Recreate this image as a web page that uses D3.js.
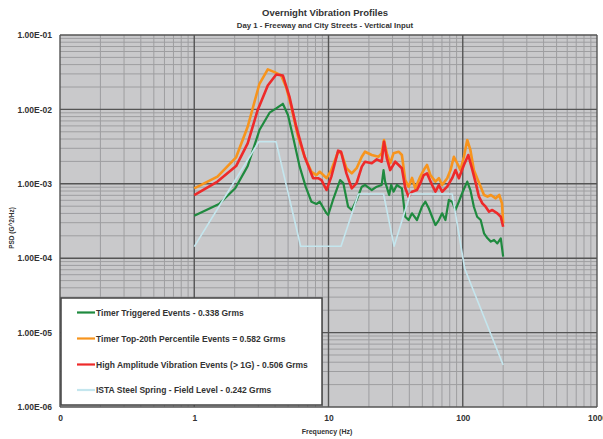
<!DOCTYPE html>
<html>
<head>
<meta charset="utf-8">
<script src="https://cdn.jsdelivr.net/npm/d3@7"></script>
<style>
  html, body { margin: 0; padding: 0; background: #fff; }
  svg { display: block; font-family: "Liberation Sans", Arial, sans-serif; }
</style>
</head>
<body>
<svg id="chart" width="603" height="439"></svg>
<script>
// ---------- DATA ----------
const chartTitle = "Overnight Vibration Profiles";
const chartSubtitle = "Day 1 - Freeway and City Streets - Vertical Input";
const xAxisTitle = "Frequency (Hz)";
const yAxisTitle = "PSD (G^2/Hz)";

const xTickValues = [0.1, 1, 10, 100, 1000];
const xTickLabels = ["0", "1", "10", "100", "1000"];
const yTickValues = [1e-6, 1e-5, 1e-4, 1e-3, 1e-2, 1e-1];
const yTickLabels = ["1.00E-06", "1.00E-05", "1.00E-04", "1.00E-03", "1.00E-02", "1.00E-01"];

const seriesNames = [
  "Timer Triggered Events - 0.338 Grms",
  "Timer Top-20th Percentile Events = 0.582 Grms",
  "High Amplitude Vibration Events (> 1G) - 0.506 Grms",
  "ISTA Steel Spring - Field Level - 0.242 Grms"
];

// Timer Triggered Events [Hz, PSD]
const timerTriggered = [
  [1.0,3.73e-4],[1.53,5.35e-4],[2.02,8.70e-4],[2.50,1.73e-3],[3.06,5.28e-3],[3.64,9.03e-3],
  [4.08,1.03e-2],[4.57,1.19e-2],[4.99,8.41e-3],[5.44,4.30e-3],[6.10,1.70e-3],[6.76,9.15e-4],
  [7.46,5.74e-4],[8.13,5.35e-4],[8.61,5.74e-4],[9.67,4.01e-4],[9.95,3.81e-4],[10.8,6.06e-4],
  [12.2,1.12e-3],[12.9,1.02e-3],[14.0,4.92e-4],[14.9,4.45e-4],[16.2,6.06e-4],[17.7,9.15e-4],
  [18.7,9.64e-4],[21.0,8.25e-4],[22.9,9.15e-4],[24.9,9.64e-4],[25.7,1.53e-3],[26.4,1.07e-3],
  [28.3,7.07e-4],[29.3,9.64e-4],[30.5,7.83e-4],[32.3,9.64e-4],[35.2,8.70e-4],[37.3,3.61e-4],
  [39.5,3.26e-4],[41.9,4.01e-4],[45.6,3.26e-4],[49.7,4.92e-4],[52.7,5.74e-4],[55.8,4.69e-4],
  [59.1,3.61e-4],[62.6,2.79e-4],[66.4,3.26e-4],[70.2,4.01e-4],[74.3,3.26e-4],[78.8,6.06e-4],
  [83.4,5.74e-4],[88.3,4.45e-4],[94.6,6.06e-4],[100,7.83e-4],[108,1.07e-3],[114,8.25e-4],
  [121,4.92e-4],[128,3.61e-4],[136,3.26e-4],[144,2.16e-4],[153,1.85e-4],[162,1.67e-4],
  [171,1.76e-4],[181,1.58e-4],[192,1.85e-4],[200,1.05e-4]
];

// Timer Top-20th Percentile Events [Hz, PSD]
const timerTop20 = [
  [1.0,8.70e-4],[1.49,1.25e-3],[2.05,2.27e-3],[2.50,5.85e-3],[3.06,2.21e-2],[3.53,3.45e-2],
  [3.96,3.17e-2],[4.44,2.86e-2],[4.84,1.99e-2],[5.28,1.09e-2],[5.93,4.30e-3],[6.64,2.31e-3],
  [7.46,1.45e-3],[8.13,1.31e-3],[8.61,1.45e-3],[9.67,1.19e-3],[10.5,1.53e-3],[11.8,2.70e-3],
  [12.5,2.57e-3],[13.6,1.62e-3],[14.9,1.38e-3],[16.2,1.62e-3],[17.7,2.31e-3],[18.7,2.70e-3],
  [21.0,2.44e-3],[23.6,2.31e-3],[24.9,2.57e-3],[25.9,3.88e-3],[27.2,2.57e-3],[28.8,1.89e-3],
  [30.5,2.57e-3],[33.3,2.70e-3],[35.2,2.44e-3],[36.3,1.62e-3],[37.3,1.12e-3],[39.5,9.15e-4],
  [41.9,1.20e-3],[44.3,8.70e-4],[48.3,1.25e-3],[51.2,1.53e-3],[54.2,1.79e-3],[57.4,1.31e-3],
  [62.6,1.07e-3],[66.4,1.19e-3],[70.2,9.64e-4],[76.6,1.19e-3],[81.1,1.53e-3],[85.9,2.31e-3],
  [90.9,1.89e-3],[96.2,1.53e-3],[102,2.31e-3],[108,3.88e-3],[114,2.85e-3],[121,1.53e-3],
  [128,1.19e-3],[136,9.15e-4],[144,7.07e-4],[153,6.71e-4],[162,7.07e-4],[176,6.38e-4],
  [187,7.07e-4],[196,5.47e-4],[200,2.95e-4]
];

// High Amplitude Vibration Events [Hz, PSD]
const highAmplitude = [
  [1.0,7.07e-4],[1.49,1.07e-3],[2.05,1.73e-3],[2.50,3.50e-3],[2.97,9.82e-3],[3.53,2.10e-2],
  [4.08,2.95e-2],[4.57,2.86e-2],[5.13,1.46e-2],[5.75,5.85e-3],[6.64,2.31e-3],[7.68,1.19e-3],
  [8.37,1.19e-3],[8.87,1.12e-3],[9.67,8.25e-4],[10.5,1.25e-3],[11.8,2.79e-3],[12.4,2.70e-3],
  [13.6,1.38e-3],[14.9,8.70e-4],[16.2,1.02e-3],[17.7,1.70e-3],[18.7,1.98e-3],[21.0,1.89e-3],
  [22.9,2.13e-3],[24.9,1.98e-3],[25.9,3.68e-3],[27.2,2.20e-3],[28.8,1.53e-3],[31.4,1.98e-3],
  [33.3,1.79e-3],[35.2,1.62e-3],[37.3,8.80e-4],[39.5,6.71e-4],[41.9,7.83e-4],[45.6,8.25e-4],
  [48.3,1.02e-3],[51.2,1.31e-3],[54.2,1.38e-3],[59.1,9.64e-4],[62.6,7.83e-4],[66.4,9.60e-4],
  [70.2,7.83e-4],[76.6,9.15e-4],[83.4,1.19e-3],[88.3,1.53e-3],[93.6,1.19e-3],[102,1.79e-3],
  [110,2.44e-3],[118,1.53e-3],[125,1.02e-3],[132,6.71e-4],[140,5.47e-4],[148,4.92e-4],
  [157,4.22e-4],[166,4.45e-4],[181,4.01e-4],[192,3.61e-4],[200,2.65e-4]
];

// ISTA Steel Spring - Field Level [Hz, PSD]
const istaSteelSpring = [
  [1,1.43e-4],[3.03,3.68e-3],[4.07,3.68e-3],[6.2,1.45e-4],[12.4,1.45e-4],[16.7,7.3e-4],
  [25.7,7.3e-4],[30.8,1.45e-4],[40.6,7.3e-4],[83.4,7.3e-4],[103.5,7.2e-5],[200,3.66e-6]
];

const seriesData = [timerTriggered, timerTop20, highAmplitude, istaSteelSpring];
const seriesColors = ["#1f8a3f", "#f7941d", "#ee2a2a", "#c4e6ee"];
const seriesWidths = [2.2, 2.6, 2.6, 1.6];

// ---------- DRAW ----------
const svg = d3.select("#chart");
const L = 60, R = 597, T = 35, B = 407;
const x = d3.scaleLog().domain([0.1, 1000]).range([L, R]);
const y = d3.scaleLog().domain([1e-6, 1e-1]).range([B, T]);

// background
svg.append("rect").attr("x", L).attr("y", T).attr("width", R - L).attr("height", B - T)
  .attr("fill", "#c9c9cb");

// minor grid
const minorX = [], minorY = [];
for (let e = -1; e <= 2; e++) for (let m = 2; m <= 9; m++) minorX.push(m * Math.pow(10, e));
for (let e = -6; e <= -2; e++) for (let m = 2; m <= 9; m++) minorY.push(m * Math.pow(10, e));

const grid = svg.append("g");
grid.selectAll(".vmin").data(minorX).join("line")
  .attr("x1", d => x(d)).attr("x2", d => x(d)).attr("y1", T).attr("y2", B)
  .attr("stroke", "#9e9ea0").attr("stroke-width", 1);
grid.selectAll(".hmin").data(minorY).join("line")
  .attr("x1", L).attr("x2", R).attr("y1", d => y(d)).attr("y2", d => y(d))
  .attr("stroke", "#9e9ea0").attr("stroke-width", 1);
grid.selectAll(".vmaj").data(xTickValues).join("line")
  .attr("x1", d => x(d)).attr("x2", d => x(d)).attr("y1", T).attr("y2", B)
  .attr("stroke", "#555").attr("stroke-width", 1.4);
grid.selectAll(".hmaj").data(yTickValues).join("line")
  .attr("x1", L).attr("x2", R).attr("y1", d => y(d)).attr("y2", d => y(d))
  .attr("stroke", "#555").attr("stroke-width", 1.4);

// axes
const xAxis = d3.axisBottom(x).tickValues(xTickValues)
  .tickFormat((d, i) => xTickLabels[i]).tickSize(0).tickPadding(8);
const gx = svg.append("g").attr("transform", `translate(0,${B})`).call(xAxis);
gx.select(".domain").remove();
gx.selectAll("text").attr("font-size", 8.5).attr("font-weight", "bold").attr("fill", "#333")
  .attr("font-family", "Liberation Sans, Arial, sans-serif");

const yAxis = d3.axisLeft(y).tickValues(yTickValues)
  .tickFormat((d, i) => yTickLabels[i]).tickSize(0).tickPadding(8);
const gy = svg.append("g").attr("transform", `translate(${L},0)`).call(yAxis);
gy.select(".domain").remove();
gy.selectAll("text").attr("font-size", 8.5).attr("font-weight", "bold").attr("fill", "#333")
  .attr("font-family", "Liberation Sans, Arial, sans-serif");

// series
const line = d3.line().x(d => x(d[0])).y(d => y(d[1]));
seriesData.forEach((s, i) => {
  svg.append("path").datum(s).attr("d", line).attr("fill", "none")
    .attr("stroke", seriesColors[i]).attr("stroke-width", seriesWidths[i])
    .attr("stroke-linejoin", "round");
});

// titles
svg.append("text").attr("x", 325).attr("y", 16).attr("text-anchor", "middle")
  .attr("font-size", 9.5).attr("font-weight", "bold").attr("fill", "#333").text(chartTitle);
svg.append("text").attr("x", 325).attr("y", 28).attr("text-anchor", "middle")
  .attr("font-size", 7.8).attr("font-weight", "bold").attr("fill", "#333").text(chartSubtitle);
svg.append("text").attr("x", (L + 594) / 2).attr("y", 434).attr("text-anchor", "middle")
  .attr("font-size", 7).attr("font-weight", "bold").attr("fill", "#333").text(xAxisTitle);
svg.append("text").attr("transform", "translate(14,228) rotate(-90)").attr("text-anchor", "middle")
  .attr("font-size", 6.5).attr("font-weight", "bold").attr("fill", "#333").text(yAxisTitle);

// legend
const lg = svg.append("g");
lg.append("rect").attr("x", 61).attr("y", 298).attr("width", 261).attr("height", 107)
  .attr("fill", "#fff").attr("stroke", "#444").attr("stroke-width", 1.5);
const rowY = [312.5, 338.5, 364.5, 390];
seriesNames.forEach((n, i) => {
  lg.append("line").attr("x1", 77).attr("x2", 95).attr("y1", rowY[i]).attr("y2", rowY[i])
    .attr("stroke", seriesColors[i]).attr("stroke-width", 2.2);
  lg.append("text").attr("x", 96).attr("y", rowY[i] + 3).attr("font-size", 8.5)
    .attr("font-weight", "bold").attr("fill", "#333").text(n);
});
</script>
</body>
</html>
